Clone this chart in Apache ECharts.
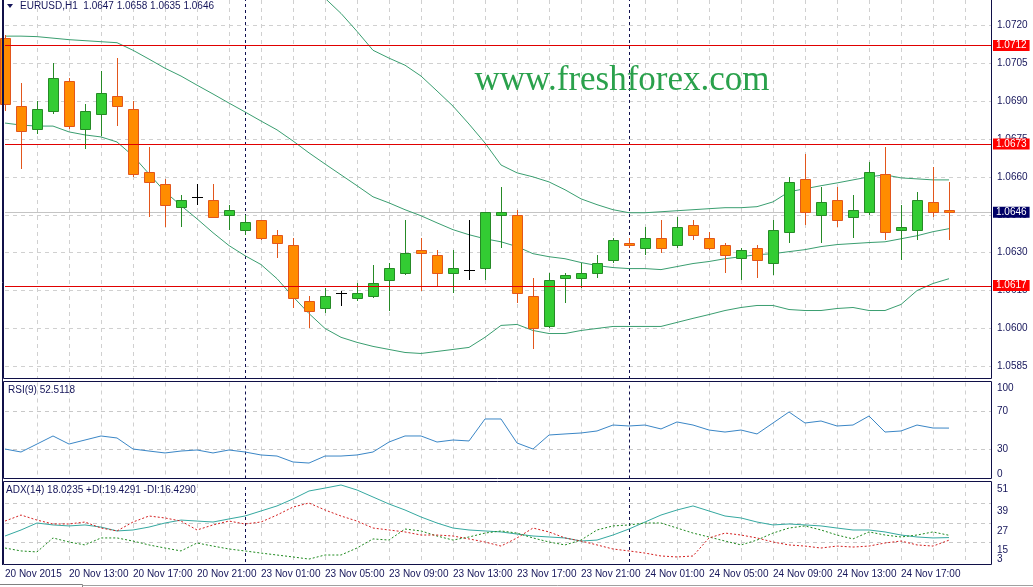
<!DOCTYPE html>
<html><head><meta charset="utf-8">
<script src="https://cdn.jsdelivr.net/npm/echarts@6/dist/echarts.min.js"></script>
<style>html,body{margin:0;padding:0;background:#fff;overflow:hidden}#c{width:1033px;height:587px}</style>
</head><body><div id="c"></div><script>
// ---------- data ----------
const timeLabels = ['20 Nov 2015','20 Nov 13:00','20 Nov 17:00','20 Nov 21:00','23 Nov 01:00','23 Nov 05:00','23 Nov 09:00','23 Nov 13:00','23 Nov 17:00','23 Nov 21:00','24 Nov 01:00','24 Nov 05:00','24 Nov 09:00','24 Nov 13:00','24 Nov 17:00'];
const opens  = [1.0715,1.0688,1.0679,1.0686,1.0698,1.0679,1.0685,1.0692,1.0687,1.0662, 1.0657,1.0648,1.0652,1.0651,1.0645,1.0639,1.0643,1.0637,1.0633,1.0611, 1.0608,1.0614,1.0612,1.0613,1.0619,1.0622,1.0631,1.0629,1.0622,1.0623, 1.0624,1.0645,1.0645,1.0613,1.0601,1.0620,1.0620,1.0622,1.0627,1.0634, 1.0632,1.0636,1.0633,1.0641,1.0636,1.0633,1.0628,1.0632,1.0626,1.0638, 1.0659,1.0645,1.0651,1.0644,1.0646,1.0661,1.0639,1.0639,1.0650,1.0647];
const highs  = [1.0716,1.0697,1.0690,1.0705,1.0699,1.0689,1.0702,1.0707,1.0690,1.0672, 1.0659,1.0653,1.0657,1.0657,1.0649,1.0645,1.0643,1.0639,1.0636,1.0613, 1.0616,1.0615,1.0618,1.0625,1.0626,1.0643,1.0636,1.0631,1.0631,1.0643, 1.0646,1.0656,1.0647,1.0620,1.0622,1.0622,1.0626,1.0629,1.0636,1.0636, 1.0640,1.0643,1.0644,1.0643,1.0638,1.0634,1.0632,1.0633,1.0643,1.0660, 1.0669,1.0656,1.0656,1.0653,1.0666,1.0672,1.0649,1.0654,1.0664,1.0658];
const lows   = [1.0686,1.0663,1.0677,1.0685,1.0679,1.0671,1.0676,1.0680,1.0660,1.0644, 1.0640,1.0640,1.0649,1.0644,1.0639,1.0637,1.0635,1.0628,1.0608,1.0600, 1.0606,1.0609,1.0611,1.0612,1.0607,1.0621,1.0615,1.0617,1.0614,1.0619, 1.0619,1.0632,1.0610,1.0592,1.0600,1.0610,1.0616,1.0620,1.0626,1.0632, 1.0629,1.0630,1.0632,1.0635,1.0631,1.0622,1.0619,1.0620,1.0621,1.0634, 1.0641,1.0634,1.0640,1.0636,1.0645,1.0635,1.0627,1.0635,1.0644,1.0635];
const closes = [1.0689,1.0678,1.0687,1.0699,1.0680,1.0686,1.0693,1.0688,1.0661,1.0658, 1.0649,1.0651,1.0652,1.0644,1.0647,1.0642,1.0636,1.0634,1.0612,1.0607, 1.0613,1.0614,1.0614,1.0618,1.0624,1.0630,1.0630,1.0622,1.0624,1.0623, 1.0646,1.0646,1.0614,1.0600,1.0619,1.0621,1.0622,1.0626,1.0635,1.0633, 1.0636,1.0632,1.0640,1.0637,1.0632,1.0629,1.0631,1.0627,1.0639,1.0658, 1.0646,1.0650,1.0643,1.0647,1.0662,1.0638,1.0640,1.0651,1.0646,1.0646];
const bbUpper  = [1.07500,1.07508,1.07508,1.07496,1.07508,1.07512,1.07512,1.07524,1.07520,1.07520, 1.07520,1.07512,1.07492,1.07476,1.07457,1.07425,1.07389,1.07374,1.07366,1.07330, 1.07307,1.07247,1.07176,1.07101,1.07070,1.07042,1.06999,1.06940,1.06880,1.06809, 1.06734,1.06647,1.06616,1.06600,1.06580,1.06549,1.06513,1.06490,1.06470,1.06458, 1.06458,1.06462,1.06466,1.06470,1.06474,1.06478,1.06478,1.06482,1.06501,1.06541, 1.06553,1.06565,1.06576,1.06588,1.06600,1.06608,1.06596,1.06592,1.06588,1.06588];
const bbMiddle = [1.07157,1.07157,1.07155,1.07149,1.07143,1.07139,1.07135,1.07131,1.07101,1.07066, 1.07030,1.06999,1.06963,1.06928,1.06892,1.06857,1.06821,1.06786,1.06742,1.06695, 1.06651,1.06608,1.06565,1.06521,1.06497,1.06470,1.06446,1.06418,1.06391,1.06371, 1.06355,1.06343,1.06324,1.06296,1.06284,1.06276,1.06261,1.06249,1.06241,1.06237, 1.06237,1.06233,1.06245,1.06257,1.06265,1.06276,1.06284,1.06292,1.06296,1.06304, 1.06312,1.06324,1.06332,1.06336,1.06340,1.06343,1.06355,1.06367,1.06383,1.06395];
const bbLower  = [1.06813,1.06805,1.06801,1.06801,1.06778,1.06766,1.06758,1.06738,1.06683,1.06612, 1.06541,1.06486,1.06434,1.06379,1.06328,1.06288,1.06253,1.06197,1.06126,1.06059, 1.06000,1.05965,1.05945,1.05929,1.05917,1.05905,1.05901,1.05909,1.05917,1.05925, 1.05965,1.06012,1.06016,1.05992,1.05980,1.05980,1.05992,1.06000,1.06008,1.06008, 1.06008,1.06008,1.06024,1.06040,1.06055,1.06071,1.06083,1.06091,1.06091,1.06075, 1.06071,1.06071,1.06079,1.06083,1.06071,1.06071,1.06095,1.06150,1.06178,1.06197];
const rsi = [30.7,27.6,35.9,44.3,35.9,40.1,44.3,42.2,30.7,28.6, 26.6,28.6,29.7,26.6,29.7,27.6,24.5,23.4,17.2,16.1, 23.4,23.4,24.5,27.6,38.0,44.3,44.3,38.0,40.1,39.1, 62.0,62.0,37.0,30.7,45.3,46.4,47.4,49.5,55.7,54.7, 55.7,51.6,58.9,55.7,50.5,48.4,50.5,46.4,57.8,69.3, 57.8,59.9,54.7,55.7,65.1,48.4,49.5,55.7,52.6,52.51];
const adx = [19.0,22.7,27.0,25.8,25.2,25.8,24.5,22.1,22.7,24.5, 27.0,28.8,28.2,27.6,29.5,31.3,34.4,37.5,41.8,46.7, 48.5,50.4,47.3,43.0,38.7,35.0,30.7,27.0,23.9,22.7, 22.1,21.5,20.2,19.0,18.4,17.8,15.9,16.5,19.6,23.3, 27.6,31.9,35.0,37.5,34.4,31.3,30.1,27.6,25.8,26.4, 25.8,25.2,23.9,22.7,22.7,21.5,19.6,18.4,17.8,18.02];
const plusDI = [11.6,9.8,9.2,17.8,15.3,13.5,17.8,17.8,15.9,13.5, 11.6,9.8,14.7,12.8,11.0,9.8,8.5,7.3,6.1,4.8, 7.3,7.3,11.6,17.2,16.5,23.3,22.1,19.0,16.5,18.4, 20.8,22.1,20.8,17.8,15.3,13.5,16.5,22.7,25.2,25.8, 27.0,27.0,23.9,20.8,18.4,15.9,13.5,16.5,20.8,23.9, 25.2,22.7,19.6,17.2,21.5,19.6,18.4,19.6,21.5,19.43];
const minusDI = [28.2,31.9,28.8,26.4,26.4,27.6,23.9,22.1,27.6,31.3, 30.1,28.2,22.7,25.8,28.2,26.4,27.6,31.9,36.8,39.3, 35.0,31.3,28.2,23.9,22.7,21.5,19.6,19.6,19.0,17.2, 15.3,12.8,17.8,23.9,21.5,17.8,15.9,13.5,11.0,9.8, 8.5,6.7,6.1,6.7,17.8,20.8,19.6,17.8,15.3,13.5, 12.8,11.6,12.8,12.2,12.8,14.7,15.9,13.5,12.8,16.43];
const priceTicks = [1.0585,1.0600,1.0615,1.0630,1.0645,1.0660,1.0675,1.0690,1.0705,1.0720];
const levelLines = [1.0712,1.0673,1.0617];
const lastPrice = 1.0646;
const daySeparators = [15, 39];
const rsiLevels = [30, 70];
const adxLevels = [15, 27, 39];

// ---------- chart ----------
const FONT = '"Liberation Sans", Arial, sans-serif';
const NAVY = '#15155a';
const XMAX = 61.625;
const idx = opens.map((_, i) => i);
const pairs = arr => arr.map((v, i) => [i, v]);

function xAxisFor(grid, labels) {
  return {
    type: 'value', gridIndex: grid, min: 0, max: XMAX, interval: 2,
    axisLine: {show: false}, axisTick: {show: false},
    axisLabel: labels ? {
      show: true, align: 'left', margin: 7, color: NAVY, fontSize: 10, fontFamily: FONT,
      formatter: v => (v % 4 === 0 && timeLabels[v / 4] !== undefined) ? timeLabels[v / 4] : ''
    } : {show: false},
    splitLine: {show: true, showMinLine: false, showMaxLine: false, lineStyle: {color: '#d0d0d0', type: [4, 4], width: 1}}
  };
}

function renderCandle(params, api) {
  const k = api.value(0), o = api.value(1), c = api.value(2), l = api.value(3), h = api.value(4);
  const pO = api.coord([k, o]), pC = api.coord([k, c]), pL = api.coord([k, l]), pH = api.coord([k, h]);
  const cx = Math.round(pO[0]);
  const x = cx + 0.5;
  const doji = Math.abs(c - o) < 1e-9;
  const up = c > o;
  const edge = doji ? '#000000' : (up ? '#268a26' : '#e2561c');
  const fill = up ? '#33cc33' : '#ff8c00';
  const children = [{
    type: 'line', shape: {x1: x, y1: Math.round(pH[1]), x2: x, y2: Math.round(pL[1])},
    style: {stroke: edge, lineWidth: 1}
  }];
  if (doji) {
    const y = Math.round(pO[1]) + 0.5;
    children.push({type: 'line', shape: {x1: cx - 5, y1: y, x2: cx + 6, y2: y}, style: {stroke: '#000', lineWidth: 1}});
  } else {
    const top = Math.round(Math.min(pO[1], pC[1]));
    const bot = Math.round(Math.max(pO[1], pC[1]));
    children.push({
      type: 'rect', shape: {x: cx - 4.5, y: top + 0.5, width: 10, height: Math.max(bot - top, 1)},
      style: {fill: fill, stroke: edge, lineWidth: 1}
    });
  }
  return {type: 'group', children};
}

// crisp horizontal level line across the price panel, positioned by the y scale
function renderLevel(params, api) {
  const y = Math.round(api.coord([0, api.value(1)])[1]) + 0.5;
  const cs = params.coordSys;
  return {type: 'line', shape: {x1: cs.x, y1: y, x2: cs.x + cs.width, y2: y},
          style: {stroke: '#e00000', lineWidth: 1}};
}

const chart = echarts.init(document.getElementById('c'), null, {renderer: 'canvas', width: 1033, height: 587});

const lbl = {color: NAVY, fontSize: 10, fontFamily: FONT};
const option = {
  animation: false,
  backgroundColor: '#ffffff',
  grid: [
    {left: 5, right: 42, top: -1, height: 380},
    {left: 5, right: 42, top: 382.5, height: 96},
    {left: 5, right: 42, top: 484, height: 78}
  ],
  xAxis: [xAxisFor(0, false), xAxisFor(1, false), xAxisFor(2, true)],
  yAxis: [
    {type: 'value', gridIndex: 0, position: 'right', min: 1.0580, max: 1.0730,
     axisLine: {show: false}, axisTick: {show: false}, axisLabel: {show: false}, splitLine: {show: false}},
    {type: 'value', gridIndex: 1, position: 'right', min: 0, max: 100, interval: 10,
     axisLine: {show: false}, axisTick: {show: false}, splitLine: {show: false},
     axisLabel: {show: true, margin: 6, color: NAVY, fontSize: 10, fontFamily: FONT,
       formatter: v => v === 100 ? '{t|100}' : v === 0 ? '{b|0}' : (v === 30 || v === 70) ? String(v) : '',
       rich: {t: Object.assign({padding: [11, 0, 0, 0]}, lbl), b: Object.assign({padding: [0, 0, 9, 0]}, lbl)}}},
    {type: 'value', gridIndex: 2, position: 'right', min: 3, max: 51, interval: 3,
     axisLine: {show: false}, axisTick: {show: false}, splitLine: {show: false},
     axisLabel: {show: true, margin: 6, color: NAVY, fontSize: 10, fontFamily: FONT,
       formatter: v => v === 51 ? '{t|51}' : v === 3 ? '{b|3}' : ((v - 3) % 12 === 0 ? '{m|' + v + '}' : ''),
       rich: {t: Object.assign({padding: [10, 0, 0, 0]}, lbl), b: Object.assign({padding: [0, 0, 6, 0]}, lbl),
              m: Object.assign({padding: [16, 0, 0, 0]}, lbl)}}}
  ],
  series: [
    // price grid lines + labels
    {type: 'line', xAxisIndex: 0, yAxisIndex: 0, data: [], silent: true,
     markLine: {silent: true, symbol: 'none', z: 1, animation: false, precision: 5,
       lineStyle: {color: '#d0d0d0', type: [4, 4], width: 1},
       label: {show: true, position: 'end', distance: 6, color: NAVY, fontSize: 10, fontFamily: FONT,
               formatter: p => Number(p.value).toFixed(4)},
       data: priceTicks.map(v => ({yAxis: v}))}},
    // day separators (main)
    {type: 'line', xAxisIndex: 0, yAxisIndex: 0, data: [], silent: true,
     markLine: {silent: true, symbol: 'none', z: 1, animation: false, label: {show: false},
       lineStyle: {color: '#101050', type: [3, 3], width: 1},
       data: daySeparators.map(v => ({xAxis: v}))}},
    // bid line
    {type: 'line', xAxisIndex: 0, yAxisIndex: 0, data: [], silent: true,
     markLine: {silent: true, symbol: 'none', z: 1, animation: false, precision: 5,
       lineStyle: {color: '#c4c4c4', type: 'solid', width: 1},
       label: {show: true, position: 'end', distance: 2, color: '#ffffff', backgroundColor: '#000066',
               padding: [1, 3, 0, 3], fontSize: 10, fontFamily: FONT, formatter: p => Number(p.value).toFixed(4)},
       data: [{yAxis: lastPrice}]}},
    // Bollinger bands
    {type: 'line', xAxisIndex: 0, yAxisIndex: 0, data: pairs(bbUpper), showSymbol: false, silent: true, z: 2,
     lineStyle: {color: '#3a9e70', width: 1}},
    {type: 'line', xAxisIndex: 0, yAxisIndex: 0, data: pairs(bbMiddle), showSymbol: false, silent: true, z: 2,
     lineStyle: {color: '#3a9e70', width: 1}},
    {type: 'line', xAxisIndex: 0, yAxisIndex: 0, data: pairs(bbLower), showSymbol: false, silent: true, z: 2,
     lineStyle: {color: '#3a9e70', width: 1}},
    // candles
    {type: 'custom', xAxisIndex: 0, yAxisIndex: 0, z: 3, silent: true,
     renderItem: renderCandle,
     encode: {x: 0, y: [1, 2, 3, 4]},
     data: idx.map(i => [i, opens[i], closes[i], lows[i], highs[i]])},
    // red level lines (lines)
    {type: 'custom', xAxisIndex: 0, yAxisIndex: 0, z: 4, silent: true,
     renderItem: renderLevel, encode: {x: 0, y: 1},
     data: levelLines.map(v => [0, v])},
    // red level lines (price boxes)
    {type: 'line', xAxisIndex: 0, yAxisIndex: 0, data: [], silent: true,
     markLine: {silent: true, symbol: 'none', z: 6, animation: false, precision: 5,
       lineStyle: {color: 'rgba(255,255,255,0)', width: 1, type: 'solid'},
       label: {show: true, position: 'end', distance: 2, color: '#ffffff', backgroundColor: '#ff0000',
               padding: [1, 3, 0, 3], fontSize: 10, fontFamily: FONT, formatter: p => Number(p.value).toFixed(4)},
       data: levelLines.map(v => ({yAxis: v}))}},
    // RSI
    {type: 'line', xAxisIndex: 1, yAxisIndex: 1, data: pairs(rsi), showSymbol: false, silent: true, z: 3,
     lineStyle: {color: '#3a86c6', width: 1},
     markLine: {silent: true, symbol: 'none', z: 1, animation: false, label: {show: false},
       lineStyle: {color: '#c8c8c8', type: [4, 4], width: 1},
       data: rsiLevels.map(v => ({yAxis: v}))}},
    {type: 'line', xAxisIndex: 1, yAxisIndex: 1, data: [], silent: true,
     markLine: {silent: true, symbol: 'none', z: 1, animation: false, label: {show: false},
       lineStyle: {color: '#101050', type: [3, 3], width: 1},
       data: daySeparators.map(v => ({xAxis: v}))}},
    // ADX
    {type: 'line', xAxisIndex: 2, yAxisIndex: 2, data: pairs(adx), showSymbol: false, silent: true, z: 3,
     lineStyle: {color: '#35a8a0', width: 1},
     markLine: {silent: true, symbol: 'none', z: 1, animation: false, label: {show: false},
       lineStyle: {color: '#c8c8c8', type: [4, 4], width: 1},
       data: adxLevels.map(v => ({yAxis: v}))}},
    {type: 'line', xAxisIndex: 2, yAxisIndex: 2, data: pairs(plusDI), showSymbol: false, silent: true, z: 3,
     lineStyle: {color: '#1f8a1f', width: 1, type: [2, 2]}},
    {type: 'line', xAxisIndex: 2, yAxisIndex: 2, data: pairs(minusDI), showSymbol: false, silent: true, z: 3,
     lineStyle: {color: '#d42020', width: 1, type: [2, 2]}},
    {type: 'line', xAxisIndex: 2, yAxisIndex: 2, data: [], silent: true,
     markLine: {silent: true, symbol: 'none', z: 1, animation: false, label: {show: false},
       lineStyle: {color: '#101050', type: [3, 3], width: 1},
       data: daySeparators.map(v => ({xAxis: v}))}}
  ],
  graphic: [
    {type: 'rect', silent: true, z: 10, shape: {x: 3.5, y: -2, width: 988, height: 380.5},
     style: {fill: 'none', stroke: '#101048', lineWidth: 1}},
    {type: 'rect', silent: true, z: 10, shape: {x: 3.5, y: 381.5, width: 988, height: 97},
     style: {fill: 'none', stroke: '#101048', lineWidth: 1}},
    {type: 'rect', silent: true, z: 10, shape: {x: 3.5, y: 481.5, width: 988, height: 83},
     style: {fill: 'none', stroke: '#101048', lineWidth: 1}},
    {type: 'line', silent: true, z: 10, shape: {x1: 2.5, y1: 0, x2: 2.5, y2: 565}, style: {stroke: '#101048', lineWidth: 1}},
    {type: 'polyline', silent: true, z: 10, shape: {points: [[0, 584.5], [82.5, 584.5], [82.5, 587]]},
     style: {stroke: '#808080', lineWidth: 1, fill: 'none'}},
    {type: 'line', silent: true, z: 10, shape: {x1: 82.5, y1: 585.5, x2: 1033, y2: 585.5}, style: {stroke: '#a0a0a0', lineWidth: 1}},
    {type: 'polygon', silent: true, z: 10, shape: {points: [[7, 4], [13, 4], [10, 8]]}, style: {fill: NAVY}},
    {type: 'text', silent: true, z: 10, x: 20, y: 1,
     style: {text: 'EURUSD,H1  1.0647 1.0658 1.0635 1.0646', fill: NAVY, font: '10px ' + FONT}},
    {type: 'text', silent: true, z: 10, x: 8, y: 385,
     style: {text: 'RSI(9) 52.5118', fill: NAVY, font: '10px ' + FONT}},
    {type: 'text', silent: true, z: 10, x: 6, y: 485,
     style: {text: 'ADX(14) 18.0235 +DI:19.4291 -DI:16.4290', fill: NAVY, font: '10px ' + FONT}},
    {type: 'text', silent: true, z: 10, x: 622, y: 81,
     style: {text: 'www.freshforex.com', fill: '#2aa14c', font: '35px "Liberation Serif", "Times New Roman", serif',
             align: 'center', verticalAlign: 'middle'}}
  ]
};
chart.setOption(option);
</script></body></html>
